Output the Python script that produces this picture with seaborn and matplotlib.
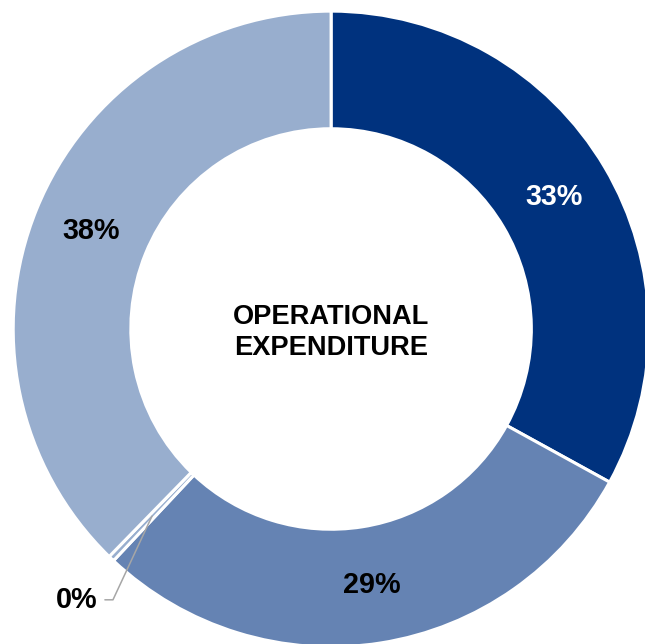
import numpy as np
import matplotlib
matplotlib.use("Agg")
import matplotlib.pyplot as plt
import seaborn as sns

# Operational expenditure split (percent), clockwise from 12 o'clock
categories = ["Segment A", "Segment B", "Segment C", "Segment D"]
shares = [33.0, 29.0, 0.3, 37.7]
colors = ["#00327E", "#6583B3", "#98AECE", "#98AECE"]
label_colors = ["white", "black", "black", "black"]
center_title = "OPERATIONAL\nEXPENDITURE"

sns.set_theme(style="white")
plt.rcParams["font.family"] = ["Liberation Sans", "DejaVu Sans"]

fig = plt.figure(figsize=(6.45, 6.44), dpi=100)
ax = fig.add_axes([0, 0, 1, 1])

wedges, _ = ax.pie(
    shares,
    colors=colors,
    startangle=90,
    counterclock=False,
    radius=1.0,
    wedgeprops=dict(width=0.37, edgecolor="white", linewidth=2.2),
)

# Percentage labels inside the ring
label_r = 0.815
for w, val, lc in zip(wedges, shares, label_colors):
    ang = np.deg2rad((w.theta1 + w.theta2) / 2)
    x, y = label_r * np.cos(ang), label_r * np.sin(ang)
    txt = f"{val:.0f}%"
    if val < 1:
        # tiny slice: label outside with an elbow leader line
        ax.annotate(
            txt,
            xy=(x, y),
            xytext=(-0.735, -0.852),
            ha="right", va="center",
            fontsize=20.7, fontweight="bold", color=lc,
            arrowprops=dict(
                arrowstyle="-", color="#A6A6A6", lw=1.1,
                connectionstyle="angle,angleA=0,angleB=65,rad=0",
                shrinkA=3, shrinkB=0,
            ),
        )
    else:
        ax.text(x, y, txt, ha="center", va="center",
                fontsize=20.7, fontweight="bold", color=lc)

ax.text(0, -0.012, center_title, ha="center", va="center",
        fontsize=19.6, fontweight="bold", color="black", linespacing=1.25)

ax.set_xlim(-1.041, 0.987)
ax.set_ylim(-0.991, 1.035)
ax.set_aspect("equal")
ax.axis("off")

fig.savefig("out.png", dpi=100, facecolor="white")
